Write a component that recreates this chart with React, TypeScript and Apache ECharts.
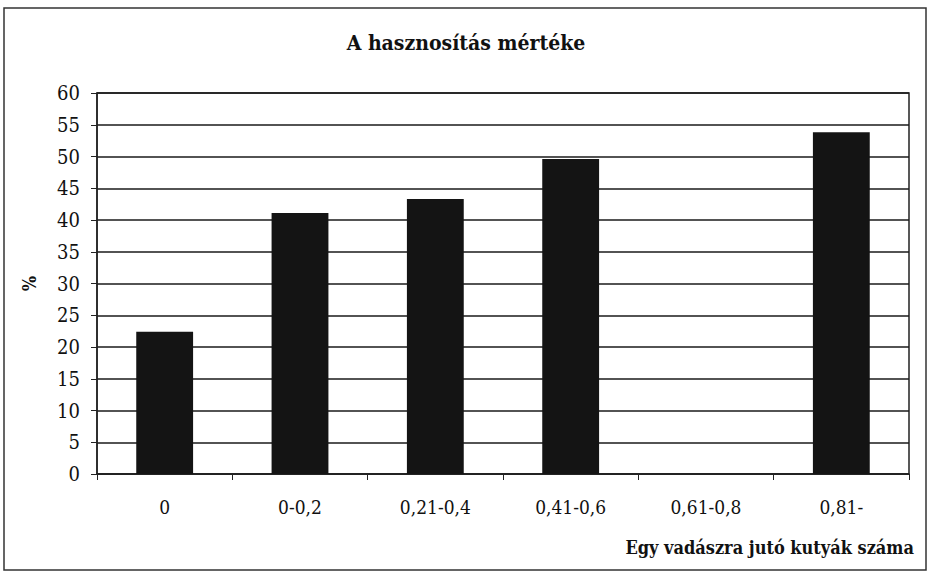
import React, { useEffect, useRef } from "react";
import * as echarts from "echarts";

const categories = ["0", "0-0,2", "0,21-0,4", "0,41-0,6", "0,61-0,8", "0,81-"];
const values = [22.4, 41.1, 43.3, 49.6, null, 53.8];
const titleText = "A hasznosítás mértéke";
const xName = "Egy vadászra jutó kutyák száma";
const yName = "%";

const FONT = "DejaVu Serif Condensed, DejaVu Serif";

export default function App() {
  const ref = useRef<HTMLDivElement>(null);
  useEffect(() => {
    const chart = echarts.init(ref.current!, null, { renderer: "svg" });
    chart.setOption({
      animation: false,
      backgroundColor: "#fff",
      textStyle: { fontFamily: FONT },
      title: {
        text: titleText,
        left: "center",
        top: 27,
        textStyle: { fontFamily: FONT, fontWeight: "bold", fontSize: 21, color: "#111" },
      },
      grid: {
        left: 97,
        right: 23,
        top: 93,
        bottom: 100,
        show: true,
        borderColor: "#222",
        borderWidth: 1.5,
        backgroundColor: "transparent",
      },
      xAxis: {
        type: "category",
        data: categories,
        boundaryGap: true,
        axisLine: { show: true, lineStyle: { color: "#222", width: 1.5 } },
        axisTick: { show: true, alignWithLabel: false, length: 6, lineStyle: { color: "#222" } },
        axisLabel: {
          fontFamily: FONT,
          fontSize: 19,
          color: "#111",
          margin: 23,
        },
        splitLine: { show: false },
      },
      yAxis: {
        type: "value",
        min: 0,
        max: 60,
        interval: 5,
        name: yName,
        nameLocation: "middle",
        nameRotate: 90,
        nameGap: 59,
        nameTextStyle: { fontFamily: FONT, fontSize: 18, fontWeight: "bold", color: "#111" },
        axisLine: { show: true, lineStyle: { color: "#222", width: 1.5 } },
        axisTick: { show: true, length: 6, inside: false, lineStyle: { color: "#222" } },
        axisLabel: { fontFamily: FONT, fontSize: 20, color: "#111", margin: 17 },
        splitLine: { show: true, lineStyle: { color: "#1a1a1a", width: 1.5 } },
      },
      series: [
        {
          type: "bar",
          data: values,
          barWidth: "42%",
          itemStyle: { color: "#141414" },
        },
      ],
      graphic: [
        {
          type: "rect",
          shape: { x: 4, y: 8, width: 922, height: 562 },
          style: { fill: "none", stroke: "#333", lineWidth: 1.5 },
          silent: true,
        },
        {
          type: "text",
          right: 18,
          top: 538,
          style: {
            text: xName,
            fontFamily: FONT,
            fontWeight: "bold",
            fontSize: 18,
            fill: "#111",
          },
        },
      ],
    });
    return () => chart.dispose();
  }, []);
  return <div ref={ref} style={{ width: 932, height: 574, position: "absolute", left: 0, top: 0 }} />;
}
